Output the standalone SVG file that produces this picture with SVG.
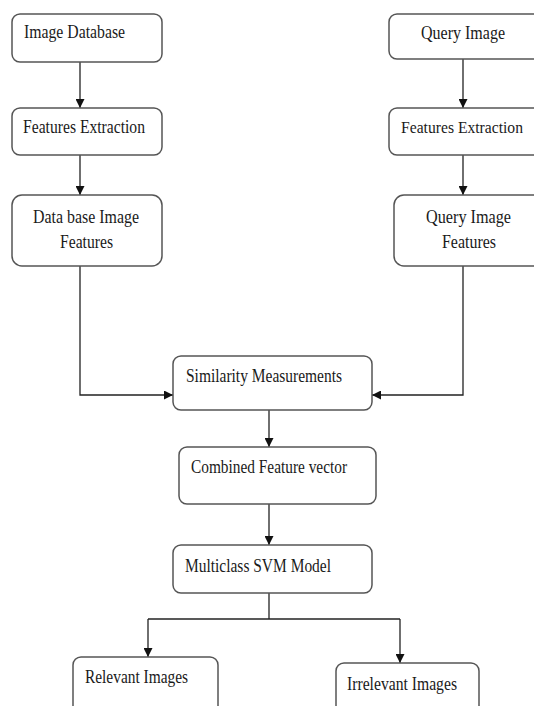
<svg xmlns="http://www.w3.org/2000/svg" width="534" height="706" viewBox="0 0 534 706">
<defs>
<style>
.box{fill:#fff;stroke:#555;stroke-width:1.5}
.t{font-family:"Liberation Serif","Times New Roman",serif;font-size:18px;fill:#1a1a1a}
.s{font-size:16.5px}
.c{stroke:#222;stroke-width:1.3;fill:none}
</style>
<marker id="ah" viewBox="0 0 10 10" refX="10" refY="5" markerWidth="9" markerHeight="9" markerUnits="userSpaceOnUse" orient="auto">
<path d="M0,0 L10,5 L0,10 Z" fill="#111"/>
</marker>
</defs>
<rect width="534" height="706" fill="#fff"/>
<g id="connectors">
<line class="c" x1="80" y1="62" x2="80" y2="108" marker-end="url(#ah)"/>
<line class="c" x1="80" y1="155" x2="80" y2="195" marker-end="url(#ah)"/>
<line class="c" x1="463" y1="59" x2="463" y2="108" marker-end="url(#ah)"/>
<line class="c" x1="463" y1="155" x2="463" y2="195" marker-end="url(#ah)"/>
<polyline class="c" points="80,266 80,395 173,395" marker-end="url(#ah)"/>
<polyline class="c" points="463,266 463,395 372,395" marker-end="url(#ah)"/>
<line class="c" x1="269" y1="410" x2="269" y2="447" marker-end="url(#ah)"/>
<line class="c" x1="269" y1="504" x2="269" y2="545" marker-end="url(#ah)"/>
<polyline class="c" points="269,593 269,619"/>
<line class="c" x1="148" y1="619" x2="400" y2="619"/>
<line class="c" x1="148" y1="619" x2="148" y2="657" marker-end="url(#ah)"/>
<line class="c" x1="400" y1="619" x2="400" y2="663" marker-end="url(#ah)"/>
</g>
<g id="image-database">
<rect class="box" x="12" y="14" width="150" height="48" rx="8"/>
<text class="t" x="24" y="38" textLength="101" lengthAdjust="spacingAndGlyphs">Image Database</text>
</g>
<g id="features-extraction-left">
<rect class="box" x="12" y="108" width="150" height="47" rx="8"/>
<text class="t" x="23" y="133" textLength="122" lengthAdjust="spacingAndGlyphs">Features Extraction</text>
</g>
<g id="database-image-features">
<rect class="box" x="12" y="195" width="150" height="71" rx="10"/>
<text class="t" x="33" y="223" textLength="106" lengthAdjust="spacingAndGlyphs">Data base Image</text>
<text class="t" x="60" y="248" textLength="53" lengthAdjust="spacingAndGlyphs">Features</text>
</g>
<g id="query-image">
<rect class="box" x="389" y="14" width="152" height="45" rx="8"/>
<text class="t" x="421" y="39" textLength="84" lengthAdjust="spacingAndGlyphs">Query Image</text>
</g>
<g id="features-extraction-right">
<rect class="box" x="389" y="108" width="152" height="47" rx="8"/>
<text class="t s" x="401" y="133" textLength="122" lengthAdjust="spacingAndGlyphs">Features Extraction</text>
</g>
<g id="query-image-features">
<rect class="box" x="394" y="195" width="150" height="71" rx="10"/>
<text class="t" x="426" y="223" textLength="85" lengthAdjust="spacingAndGlyphs">Query Image</text>
<text class="t" x="442" y="248" textLength="54" lengthAdjust="spacingAndGlyphs">Features</text>
</g>
<g id="similarity-measurements">
<rect class="box" x="173" y="356" width="199" height="54" rx="8"/>
<text class="t" x="186" y="382" textLength="156" lengthAdjust="spacingAndGlyphs">Similarity Measurements</text>
</g>
<g id="combined-feature-vector">
<rect class="box" x="179" y="447" width="197" height="57" rx="8"/>
<text class="t" x="191" y="473" textLength="156" lengthAdjust="spacingAndGlyphs">Combined Feature vector</text>
</g>
<g id="multiclass-svm-model">
<rect class="box" x="173" y="545" width="199" height="48" rx="8"/>
<text class="t" x="185" y="572" textLength="146" lengthAdjust="spacingAndGlyphs">Multiclass SVM Model</text>
</g>
<g id="relevant-images">
<rect class="box" x="73" y="657" width="145" height="58" rx="8"/>
<text class="t" x="85" y="683" textLength="103" lengthAdjust="spacingAndGlyphs">Relevant Images</text>
</g>
<g id="irrelevant-images">
<rect class="box" x="336" y="663" width="143" height="58" rx="8"/>
<text class="t" x="347" y="690" textLength="110" lengthAdjust="spacingAndGlyphs">Irrelevant Images</text>
</g>
</svg>
